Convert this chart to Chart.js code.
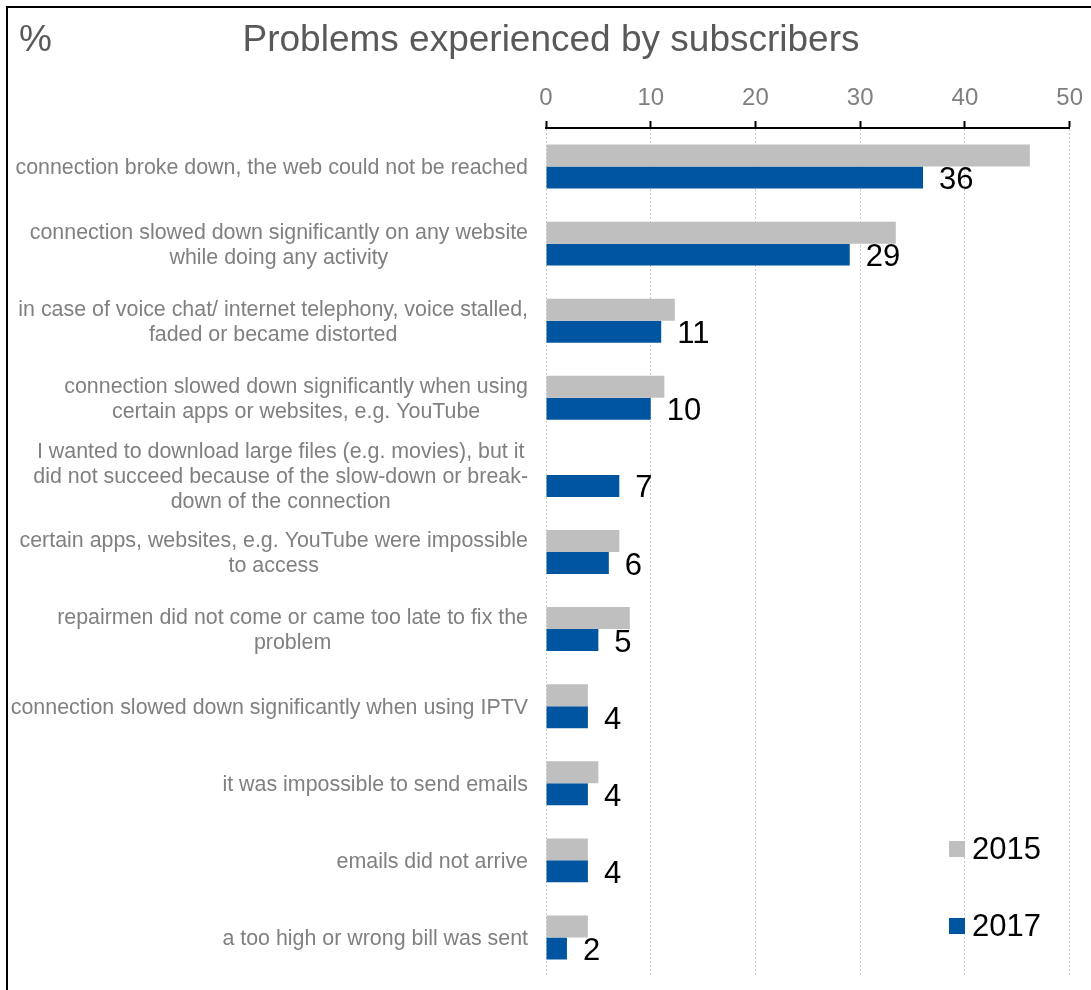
<!DOCTYPE html>
<html>
<head>
<meta charset="utf-8">
<script src="https://cdn.jsdelivr.net/npm/chart.js@4.4.0/dist/chart.umd.min.js"></script>
<style>
  html,body{margin:0;padding:0;background:#fff;}
  #wrap{width:1091px;height:990px;}
</style>
</head>
<body>
<div id="wrap"><canvas id="chart" width="1091" height="990"></canvas></div>
<script>
// problem categories, one array of text lines per bar pair
const categories=[
  ["connection broke down, the web could not be reached"],
  ["connection slowed down significantly on any website","while doing any activity"],
  ["in case of voice chat/ internet telephony, voice stalled,","faded or became distorted"],
  ["connection slowed down significantly when using","certain apps or websites, e.g. YouTube"],
  ["I wanted to download large files (e.g. movies), but it","did not succeed because of the slow-down or break-","down of the connection"],
  ["certain apps, websites, e.g. YouTube were impossible","to access"],
  ["repairmen did not come or came too late to fix the","problem"],
  ["connection slowed down significantly when using IPTV"],
  ["it was impossible to send emails"],
  ["emails did not arrive"],
  ["a too high or wrong bill was sent"]
];
const values2015=[46.2,33.4,12.3,11.3,null,7.0,8.0,4.0,5.0,4.0,4.0];
const values2017=[36,29,11,10,7,6,5,4,4,4,2];
const xTicks=[0,10,20,30,40,50];

const FONT="'Liberation Sans', Arial, sans-serif";
const GRAY="#bfbfbf", BLUE="#0055a0";

// frame, title and the "%" unit
const framePlugin={
  id:"frame",
  afterDraw(chart){
    const ctx=chart.ctx;
    ctx.save();
    ctx.strokeStyle="#000"; ctx.lineWidth=2;
    ctx.beginPath();
    ctx.moveTo(7,990); ctx.lineTo(7,7); ctx.lineTo(1091,7);
    ctx.stroke();
    ctx.fillStyle="#595959";
    ctx.font="37px "+FONT;
    ctx.textBaseline="middle";
    ctx.textAlign="center";
    ctx.fillText("Problems experienced by subscribers",551,41);
    ctx.textAlign="left";
    ctx.fillText("%",19,41);
    ctx.restore();
  }
};

// category labels: block right-aligned, lines centred within the block
const catLabels={
  id:"catLabels",
  afterDraw(chart){
    const ctx=chart.ctx, y=chart.scales.y;
    const right=chart.chartArea.left-18, lh=25;
    ctx.save();
    ctx.font="21.4px "+FONT;
    ctx.fillStyle="#808080";
    ctx.textAlign="center";
    ctx.textBaseline="middle";
    chart.data.labels.forEach((lines,i)=>{
      const w=Math.max(...lines.map(l=>ctx.measureText(l).width));
      const cx=right-w/2;
      const cy=y.getPixelForValue(i)+2;
      const y0=cy-(lines.length-1)*lh/2;
      lines.forEach((l,j)=>ctx.fillText(l,cx,y0+j*lh));
    });
    ctx.restore();
  }
};

// value labels next to the 2017 bars
const valueLabels={
  id:"valueLabels",
  afterDatasetsDraw(chart){
    const ctx=chart.ctx, meta=chart.getDatasetMeta(1);
    ctx.save();
    ctx.font="31px "+FONT;
    ctx.fillStyle="#000";
    ctx.textAlign="left";
    ctx.textBaseline="middle";
    meta.data.forEach((bar,i)=>{
      const v=chart.data.datasets[1].data[i];
      if(v==null) return;
      ctx.fillText(String(v),bar.x+16,bar.y+3);
    });
    ctx.restore();
  }
};

// legend in the lower right corner of the plot
const legendBox={
  id:"legendBox",
  afterDraw(chart){
    const ctx=chart.ctx;
    ctx.save();
    ctx.font="31px "+FONT;
    ctx.textBaseline="middle";
    ctx.textAlign="left";
    chart.data.datasets.forEach((ds,i)=>{
      const top=841+i*77;
      ctx.fillStyle=ds.backgroundColor;
      ctx.fillRect(949,top,16,16);
      ctx.fillStyle="#000";
      ctx.fillText(ds.label,972,top+9);
    });
    ctx.restore();
  }
};

new Chart(document.getElementById("chart"),{
  type:"bar",
  data:{
    labels:categories,
    datasets:[
      {label:"2015",data:values2015,backgroundColor:GRAY},
      {label:"2017",data:values2017,backgroundColor:BLUE}
    ]
  },
  options:{
    indexAxis:"y",
    responsive:false,
    animation:false,
    devicePixelRatio:1,
    layout:{padding:{left:546,right:21,top:0,bottom:14}},
    datasets:{bar:{categoryPercentage:0.57,barPercentage:1.0}},
    plugins:{legend:{display:false},tooltip:{enabled:false}},
    scales:{
      x:{
        position:"top",
        min:0,max:50,
        afterBuildTicks(s){ s.ticks=xTicks.map(v=>({value:v})); },
        afterFit(s){ s.height=128; },
        ticks:{color:"#808080",font:{family:FONT,size:24},padding:8},
        grid:{color:"#c9c9c9",lineWidth:1,tickColor:"#000",tickLength:7,tickWidth:2,tickBorderDash:[]},
        border:{color:"#000",width:2,dash:[2,2]}
      },
      y:{display:false}
    }
  },
  plugins:[framePlugin,catLabels,valueLabels,legendBox]
});
</script>
</body>
</html>
